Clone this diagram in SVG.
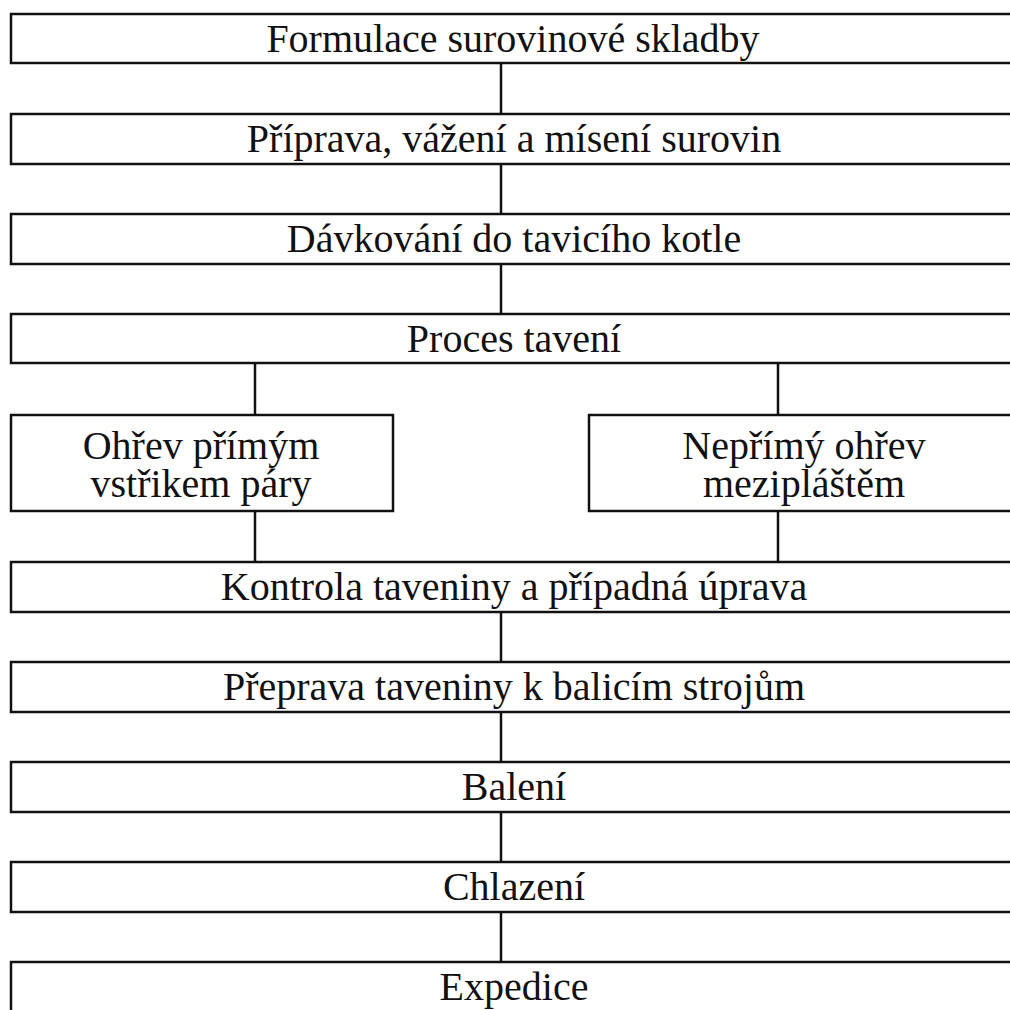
<svg xmlns="http://www.w3.org/2000/svg" width="1010" height="1010" viewBox="0 0 1010 1010">
<style>
.box{fill:#fff;stroke:#111;stroke-width:2.5}
.t{font-family:"Liberation Serif","Times New Roman",serif;font-size:40px;fill:#111;text-anchor:middle}
.c{stroke:#111;stroke-width:2.5;fill:none}
</style>
<rect width="1010" height="1010" fill="#fff"/>
<g id="connectors">
<line class="c" x1="501" y1="63" x2="501" y2="114"/>
<line class="c" x1="501" y1="164" x2="501" y2="214"/>
<line class="c" x1="501" y1="264" x2="501" y2="314"/>
<line class="c" x1="255" y1="363" x2="255" y2="415"/>
<line class="c" x1="778" y1="363" x2="778" y2="415"/>
<line class="c" x1="255" y1="511" x2="255" y2="562"/>
<line class="c" x1="778" y1="511" x2="778" y2="562"/>
<line class="c" x1="501" y1="612" x2="501" y2="662"/>
<line class="c" x1="501" y1="712" x2="501" y2="762"/>
<line class="c" x1="501" y1="812" x2="501" y2="862"/>
<line class="c" x1="501" y1="912" x2="501" y2="962"/>
</g>
<g id="n1"><rect class="box" x="11" y="14" width="1015" height="49"/><text class="t" x="513" y="52">Formulace surovinové skladby</text></g>
<g id="n2"><rect class="box" x="11" y="114" width="1015" height="50"/><text class="t" x="514" y="152">Příprava, vážení a mísení surovin</text></g>
<g id="n3"><rect class="box" x="11" y="214" width="1015" height="50"/><text class="t" x="514" y="252">Dávkování do tavicího kotle</text></g>
<g id="n4"><rect class="box" x="11" y="314" width="1015" height="49"/><text class="t" x="514" y="352">Proces tavení</text></g>
<g id="n5"><rect class="box" x="11" y="415" width="382" height="96"/><text class="t" x="201" y="459">Ohřev přímým</text><text class="t" x="201" y="497">vstřikem páry</text></g>
<g id="n6"><rect class="box" x="589" y="415" width="430" height="96"/><text class="t" x="804" y="459">Nepřímý ohřev</text><text class="t" x="804" y="497">mezipláštěm</text></g>
<g id="n7"><rect class="box" x="11" y="562" width="1015" height="50"/><text class="t" x="514" y="599.5">Kontrola taveniny a případná úprava</text></g>
<g id="n8"><rect class="box" x="11" y="662" width="1015" height="50"/><text class="t" x="514" y="699.5">Přeprava taveniny k balicím strojům</text></g>
<g id="n9"><rect class="box" x="11" y="762" width="1015" height="50"/><text class="t" x="514" y="799.5">Balení</text></g>
<g id="n10"><rect class="box" x="11" y="862" width="1015" height="50"/><text class="t" x="514" y="899.5">Chlazení</text></g>
<g id="n11"><rect class="box" x="11" y="962" width="1015" height="60"/><text class="t" x="514" y="999.5">Expedice</text></g>
</svg>
